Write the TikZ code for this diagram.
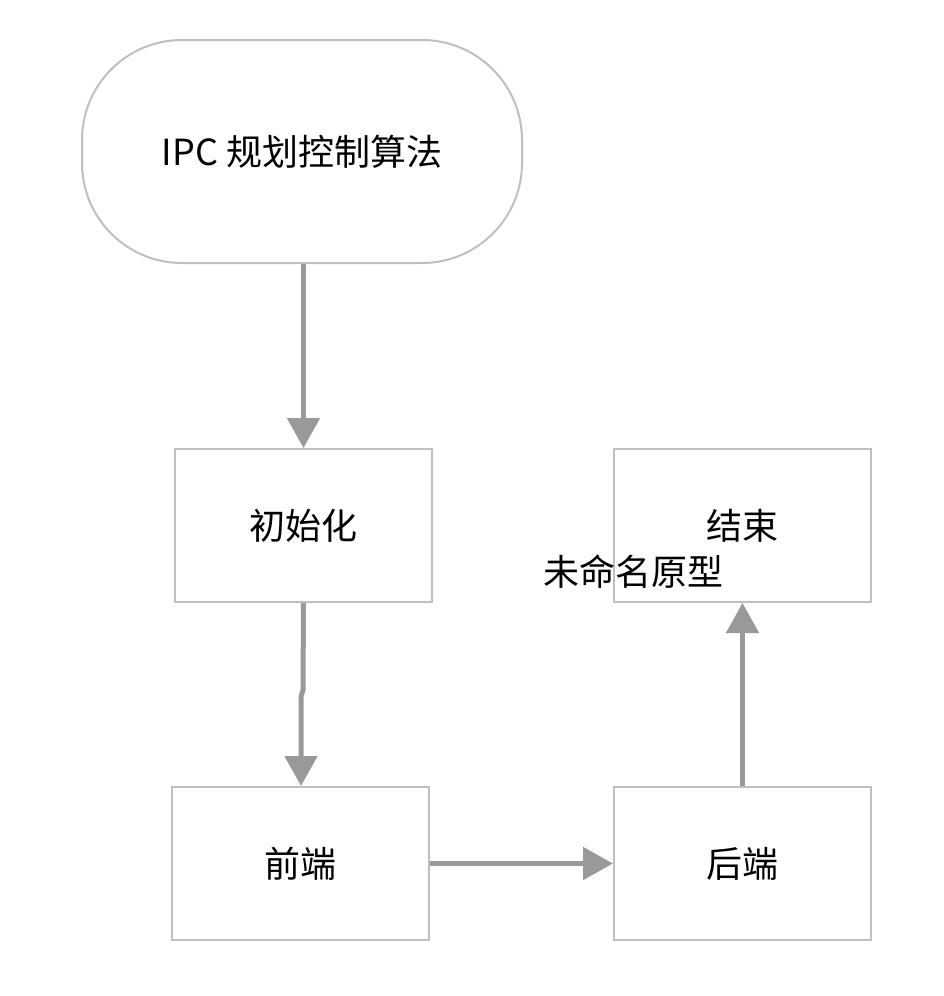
\documentclass[tikz,border=0pt]{standalone}
\usepackage{fontspec}
\setmainfont{Noto Sans CJK SC}
\usetikzlibrary{arrows.meta}
\tikzset{
  box/.style={draw=black!25, line width=2pt, minimum width=257pt, minimum height=153pt, font=\fontsize{36}{42}\selectfont},
  link/.style={draw=black!40, line width=5pt, -{Triangle[width=32pt,length=30pt]}}
}
\begin{document}
\begin{tikzpicture}[x=1pt,y=-1pt]
\useasboundingbox (0,0) rectangle (943,996);
\node[box, rounded corners=100pt, minimum width=440pt, minimum height=223pt] (ipc) at (302,151.5){IPC 规划控制算法};
\node[box] (init) at (303.5,525.5){初始化};
\node[box] (front) at (300.5,863.5){前端};
\node[box] (back) at (742.5,863.5){后端};
\node[box] (finish) at (742.5,525.5){结束};
\node[font=\fontsize{36}{42}\selectfont] (proto) at (633,572){未命名原型};
\coordinate (kinka) at (303,690);
\coordinate (kinkb) at (301,697);
\draw[link](ipc.south -| init.north) -- (init.north);
\draw[link](init.south) -- (kinka) -- (kinkb) -- (kinkb |- front.north);
\draw[link](front.east) -- (back.west);
\draw[link](back.north) -- (finish.south);
\end{tikzpicture}
\end{document}
